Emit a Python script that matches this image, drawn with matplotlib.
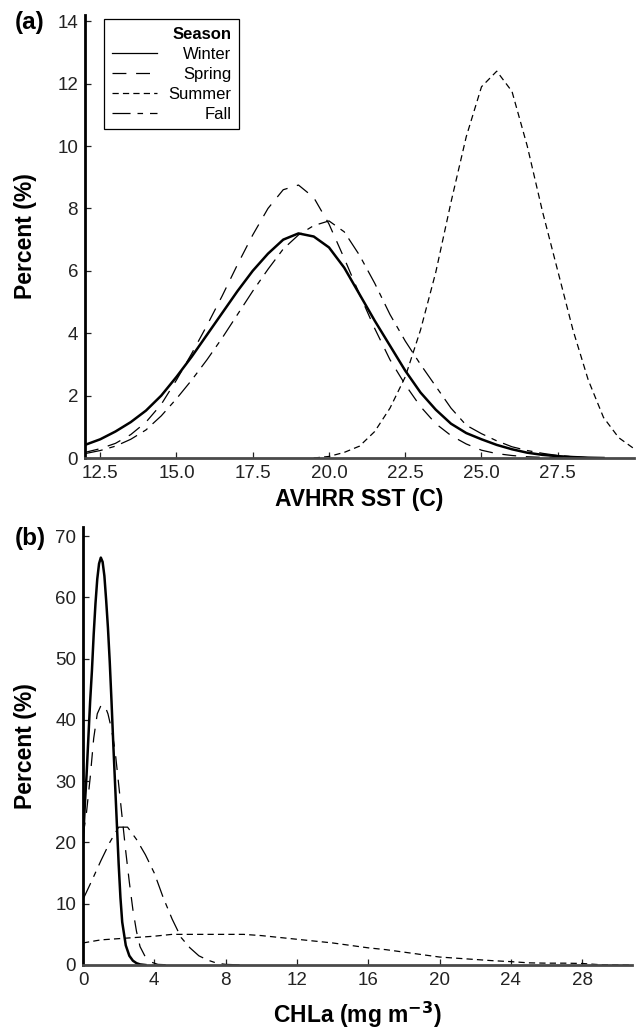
import matplotlib
matplotlib.use("Agg")
import matplotlib.pyplot as plt
import numpy as np

plt.rcParams["font.family"] = ["Liberation Sans", "DejaVu Sans"]
plt.rcParams["lines.scale_dashes"] = False

seasons = ["Winter", "Spring", "Summer", "Fall"]

# (a) AVHRR SST distribution, percent per bin
sst_x = [12.0, 12.5, 13.0, 13.5, 14.0, 14.5, 15.0, 15.5, 16.0, 16.5, 17.0, 17.5,
         18.0, 18.5, 19.0, 19.5, 20.0, 20.5, 21.0, 21.5, 22.0, 22.5, 23.0, 23.5,
         24.0, 24.5, 25.0, 25.5, 26.0, 26.5, 27.0, 27.5, 28.0, 28.5, 29.0, 29.5, 30.0]
sst_winter = [0.42, 0.6, 0.85, 1.15, 1.52, 2.0, 2.6, 3.25, 3.95, 4.65, 5.35, 6.0,
              6.55, 7.0, 7.2, 7.1, 6.75, 6.1, 5.25, 4.4, 3.6, 2.8, 2.1, 1.55,
              1.1, 0.8, 0.6, 0.42, 0.28, 0.17, 0.1, 0.06, 0.03, 0.01, 0.0, np.nan, np.nan]
sst_spring = [0.18, 0.3, 0.47, 0.75, 1.15, 1.72, 2.5, 3.35, 4.25, 5.2, 6.2, 7.15,
              8.0, 8.6, 8.75, 8.35, 7.5, 6.4, 5.25, 4.15, 3.15, 2.35, 1.65, 1.1,
              0.72, 0.45, 0.25, 0.14, 0.08, 0.04, 0.02, 0.01, 0.0, 0.0, np.nan, np.nan, np.nan]
sst_summer = [np.nan, np.nan, np.nan, np.nan, np.nan, np.nan, np.nan, np.nan, np.nan, np.nan, np.nan, np.nan,
              np.nan, np.nan, np.nan, 0.0, 0.05, 0.18, 0.38, 0.85, 1.6, 2.6, 4.1, 5.95,
              8.2, 10.3, 11.9, 12.4, 11.75, 10.0, 7.9, 6.0, 4.1, 2.5, 1.3, 0.65, 0.3]
sst_fall = [0.14, 0.24, 0.38, 0.6, 0.9, 1.35, 1.9, 2.5, 3.15, 3.85, 4.6, 5.35,
            6.05, 6.7, 7.15, 7.45, 7.6, 7.25, 6.5, 5.6, 4.6, 3.75, 3.0, 2.3,
            1.6, 1.05, 0.78, 0.55, 0.36, 0.24, 0.15, 0.08, 0.04, 0.01, 0.0, np.nan, np.nan]

# (b) CHLa distribution, percent per bin
chla_winter_x = [0.0, 0.1, 0.2, 0.3, 0.4, 0.5, 0.6, 0.7, 0.8, 0.9, 1.0, 1.1, 1.2, 1.3, 1.4,
                 1.5, 1.6, 1.7, 1.8, 1.9, 2.0, 2.1, 2.2, 2.4, 2.6, 2.8, 3.0, 3.2, 3.5]
chla_winter = [20, 26, 31, 37, 43, 48, 54, 59, 63, 65.5, 66.5, 65.8, 63.5, 59.5, 55,
               49.5, 43, 36, 29.5, 23, 16.5, 11, 7, 3.2, 1.5, 0.7, 0.3, 0.1, 0.0]
chla_spring_x = [0.0, 0.2, 0.4, 0.6, 0.8, 1.0, 1.2, 1.4, 1.6, 1.8, 2.0, 2.2, 2.4, 2.6,
                 2.8, 3.0, 3.2, 3.5, 3.8, 4.2, 5.0]
chla_spring = [21, 25, 30.5, 37, 41, 42.3, 42.5, 41, 38.5, 35, 29.5, 24, 18.5, 13.5,
               9, 5.5, 3, 1.3, 0.5, 0.1, 0.0]
chla_summer_x = [0, 1, 2, 3, 4, 5, 6, 7, 8, 9, 10, 11, 12, 13, 14, 15, 16, 17, 18, 19,
                 20, 21, 22, 23, 24, 25, 26, 27, 28, 29, 30.8]
chla_summer = [3.6, 4.1, 4.3, 4.5, 4.7, 5.0, 5.0, 5.0, 5.0, 5.0, 4.8, 4.5, 4.2, 3.9, 3.6,
               3.2, 2.8, 2.5, 2.1, 1.7, 1.3, 1.1, 0.9, 0.7, 0.55, 0.35, 0.3, 0.3, 0.25, 0.05, 0.0]
chla_fall_x = [0.0, 0.5, 1.0, 1.5, 2.0, 2.5, 3.0, 3.5, 4.0, 4.5, 5.0, 5.5, 6.0, 6.5,
               7.0, 7.5, 8.0, 9.0]
chla_fall = [10.7, 13.8, 17, 20, 22.5, 22.5, 20.5, 18, 15, 11, 7.5, 4.5, 2.8, 1.5,
             0.8, 0.3, 0.1, 0.0]

styles = {
    "Winter": dict(color="black", lw=1.8, linestyle="-"),
    "Spring": dict(color="black", lw=0.9, dashes=(10, 7)),
    "Summer": dict(color="black", lw=0.9, dashes=(4.5, 3)),
    "Fall": dict(color="black", lw=0.9, dashes=(13, 5, 4, 5)),
}


def _style_axes(ax):
    for side in ["top", "right"]:
        ax.spines[side].set_visible(False)
    ax.spines["left"].set_linewidth(2.0)
    ax.spines["left"].set_color("black")
    ax.spines["bottom"].set_linewidth(2.0)
    ax.spines["bottom"].set_color("#4a4a4a")
    ax.tick_params(direction="in", length=4.5, width=0.9, labelsize=13.5, pad=5,
                   colors="#222222")


fig = plt.figure(figsize=(6.37, 10.29), dpi=100)
ax_a = fig.add_axes([0.1334, 0.5549, 0.8619, 0.4305])
ax_b = fig.add_axes([0.1303, 0.0622, 0.8619, 0.4257])

sst_series = [sst_winter, sst_spring, sst_summer, sst_fall]
for name, ys in zip(seasons, sst_series):
    ax_a.plot(sst_x, ys, label=name, **styles[name])

chla_series = [(chla_winter_x, chla_winter), (chla_spring_x, chla_spring),
               (chla_summer_x, chla_summer), (chla_fall_x, chla_fall)]
for name, (xs, ys) in zip(seasons, chla_series):
    ax_b.plot(xs, ys, label=name, **styles[name])

ax_a.set_xlim(12, 30)
ax_a.set_ylim(0, 14.2)
ax_a.set_xticks([12.5, 15.0, 17.5, 20.0, 22.5, 25.0, 27.5])
ax_a.set_xticklabels(["12.5", "15.0", "17.5", "20.0", "22.5", "25.0", "27.5"])
ax_a.set_yticks([0, 2, 4, 6, 8, 10, 12, 14])

ax_b.set_xlim(0, 30.8)
ax_b.set_ylim(0, 71.5)
ax_b.set_xticks([0, 4, 8, 12, 16, 20, 24, 28])
ax_b.set_yticks([0, 10, 20, 30, 40, 50, 60, 70])

for ax in (ax_a, ax_b):
    _style_axes(ax)

label_kw = dict(fontsize=16.5, fontweight="bold")
ax_a.set_ylabel("Percent (%)", **label_kw)
ax_b.set_ylabel("Percent (%)", **label_kw)
ax_a.yaxis.set_label_coords(-0.087, 0.5)
ax_b.yaxis.set_label_coords(-0.084, 0.5)
ax_a.set_xlabel("AVHRR SST (C)", **label_kw)
ax_b.set_xlabel("CHLa (mg m$^{\\mathbf{-3}}$)", **label_kw)
ax_a.xaxis.set_label_coords(0.5, -0.068)
ax_b.xaxis.set_label_coords(0.5, -0.080)

fig.text(15 / 637, 1 - 22 / 1029, "(a)", fontsize=17.5, fontweight="bold", va="center", ha="left")
fig.text(15 / 637, 1 - 538 / 1029, "(b)", fontsize=17.5, fontweight="bold", va="center", ha="left")

leg = ax_a.legend(loc="upper left", bbox_to_anchor=(0.035, 0.991), borderaxespad=0,
                  title="Season", alignment="right", fontsize=12, title_fontsize=12,
                  frameon=True, fancybox=False, edgecolor="black", framealpha=1,
                  handlelength=2.7, handletextpad=0.7, labelspacing=0.3,
                  borderpad=0.45)
leg.get_frame().set_linewidth(0.9)
leg.get_title().set_fontweight("bold")
leg.legend_handles[0].set_linewidth(0.9)

# right-align the labels while keeping the handles lined up on the left
fig.canvas.draw()
renderer = fig.canvas.get_renderer()
widths = [t.get_window_extent(renderer).width for t in leg.get_texts()]
wmax = max(widths)
rows = leg._legend_handle_box.get_children()[0].get_children()
for row, w in zip(rows, widths):
    row.sep += (wmax - w) * 72 / fig.dpi

fig.savefig("out.png", dpi=100)
